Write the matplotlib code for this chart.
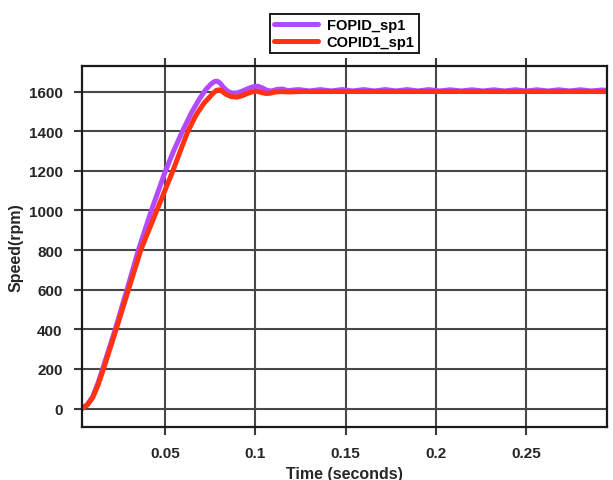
import matplotlib
matplotlib.use("Agg")
import matplotlib.pyplot as plt

# ---------- DATA ----------
t_fopid = [0.004, 0.007, 0.010, 0.013, 0.0155, 0.019, 0.0225, 0.029, 0.0353, 0.0425,
           0.0503, 0.0548, 0.0597, 0.0645, 0.069, 0.0728, 0.0755, 0.0775, 0.079,
           0.0805, 0.0825, 0.085, 0.0875, 0.090, 0.093, 0.096, 0.099, 0.1015,
           0.104, 0.1065, 0.109, 0.112, 0.115, 0.118,
           0.124, 0.130, 0.136, 0.142, 0.148, 0.154, 0.160, 0.166, 0.172, 0.178,
           0.184, 0.190, 0.196, 0.202, 0.208, 0.214, 0.220, 0.226, 0.232, 0.238,
           0.244, 0.250, 0.256, 0.262, 0.268, 0.274, 0.280, 0.286, 0.292, 0.295]
y_fopid = [0, 20, 60, 130, 200, 300, 400, 600, 800, 1000,
           1200, 1300, 1400, 1490, 1562, 1612, 1638, 1651, 1652,
           1643, 1620, 1600, 1592, 1593, 1603, 1615, 1625, 1627,
           1618, 1606, 1603, 1611, 1613, 1605,
           1610, 1603, 1610, 1603, 1610, 1603, 1610, 1603, 1610, 1603,
           1610, 1603, 1610, 1603, 1609, 1603, 1609, 1603, 1609, 1603,
           1609, 1603, 1609, 1603, 1609, 1603, 1609, 1603, 1608, 1605]

t_copid = [0.004, 0.007, 0.010, 0.013, 0.016, 0.0195, 0.023, 0.0298, 0.0366, 0.0455,
           0.0544, 0.0585, 0.0625, 0.067, 0.0715, 0.0765, 0.0785, 0.080, 0.0815,
           0.084, 0.087, 0.0898, 0.0925, 0.0955, 0.0985, 0.1009, 0.1035, 0.106,
           0.1085, 0.111, 0.1145, 0.118, 0.125, 0.15, 0.2, 0.25, 0.295]
y_copid = [0, 18, 55, 120, 200, 300, 400, 600, 800, 1000,
           1200, 1300, 1395, 1478, 1540, 1590, 1606, 1609, 1603,
           1585, 1574, 1572, 1578, 1590, 1599, 1602, 1595, 1590,
           1592, 1598, 1600, 1598, 1600, 1600, 1600, 1600, 1600]

x_ticks = [0.05, 0.1, 0.15, 0.2, 0.25]
x_tick_labels = ["0.05", "0.1", "0.15", "0.2", "0.25"]
y_ticks = [0, 200, 400, 600, 800, 1000, 1200, 1400, 1600]

# ---------- STYLE ----------
plt.rcParams["font.family"] = ["Liberation Sans", "DejaVu Sans"]
plt.rcParams["font.weight"] = "bold"

fig = plt.figure(figsize=(6.13, 4.81), dpi=100)
ax = fig.add_axes([0.1338, 0.1102, 0.8564, 0.7505])

ax.plot(t_fopid, y_fopid, color="#B24BFF", lw=3.6, label="FOPID_sp1",
        solid_joinstyle="round", solid_capstyle="round")
ax.plot(t_copid, y_copid, color="#FF3311", lw=3.6, label="COPID1_sp1",
        solid_joinstyle="round", solid_capstyle="round")

ax.set_xlim(0.0041, 0.2947)
ax.set_ylim(-93, 1729)
ax.set_xticks(x_ticks)
ax.set_xticklabels(x_tick_labels)
ax.set_yticks(y_ticks)

ax.grid(True, color="#474747", lw=1.5)
ax.set_axisbelow(True)
ax.tick_params(direction="out", length=6, width=1.5, color="#3a3a3a",
               labelsize=11, labelcolor="#262626", top=True, pad=8)
for s in ax.spines.values():
    s.set_color("#1a1a1a")
    s.set_linewidth(1.6)

ax.set_xlabel("Time (seconds)", fontsize=11.5, fontweight="bold", color="#262626", labelpad=4)
ax.set_ylabel("Speed(rpm)", fontsize=11.5, fontweight="bold", color="#262626", labelpad=4)

leg = ax.legend(loc="lower center", bbox_to_anchor=(0.5, 1.035), fontsize=10.5,
                handlelength=3.0, fancybox=False, framealpha=1, borderpad=0.3,
                labelspacing=0.2, handletextpad=0.6, borderaxespad=0)
leg.get_frame().set_edgecolor("#1a1a1a")
leg.get_frame().set_linewidth(1.4)

fig.savefig("out.png", dpi=100)
plt.close(fig)
